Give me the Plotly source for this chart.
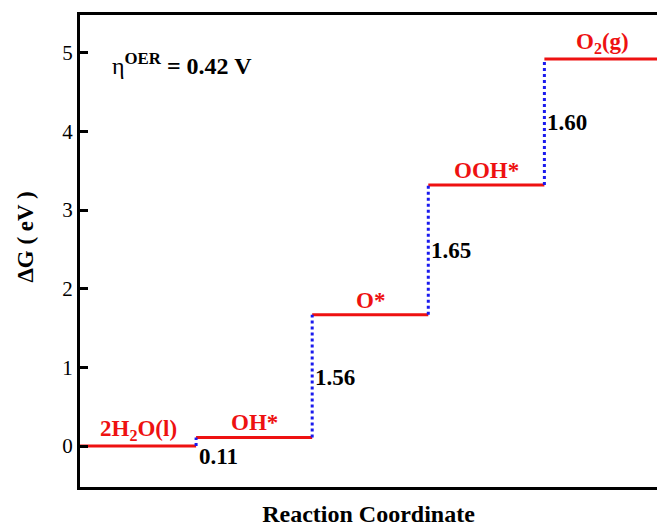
import plotly.graph_objects as go

states = ["2H<sub>2</sub>O(l)", "OH*", "O*", "OOH*", "O<sub>2</sub>(g)"]
levels = [0.0, 0.11, 1.67, 3.32, 4.92]
step_labels = ["0.11", "1.56", "1.65", "1.60"]
overpotential = "0.42"

RED = "#ee1111"
BLUE = "#1a1aee"
FONT = "Liberation Serif"

fig = go.Figure()

# red horizontal levels
xs, ys = [], []
for i, lv in enumerate(levels):
    xs += [i, i + 1, None]
    ys += [lv, lv, None]
fig.add_trace(go.Scatter(x=xs, y=ys, mode="lines", line=dict(color=RED, width=3),
                         hoverinfo="skip", showlegend=False))

# blue dotted steps
xs, ys = [], []
for i in range(1, len(levels)):
    xs += [i, i, None]
    ys += [levels[i - 1], levels[i], None]
fig.add_trace(go.Scatter(x=xs, y=ys, mode="lines", line=dict(color=BLUE, width=3, dash="dot"),
                         hoverinfo="skip", showlegend=False))

# state labels
for i, (name, lv) in enumerate(zip(states, levels)):
    fig.add_annotation(x=i + 0.5, y=lv, text="<b>%s</b>" % name, showarrow=False,
                       yanchor="bottom", yshift=0, font=dict(family=FONT, size=23, color=RED))

# step labels
for i, lab in enumerate(step_labels):
    lo, hi = levels[i], levels[i + 1]
    if hi - lo < 0.3:
        fig.add_annotation(x=i + 1, y=lo, text="<b>%s</b>" % lab, showarrow=False,
                           xanchor="left", yanchor="top", xshift=1, yshift=4,
                           font=dict(family=FONT, size=23, color="black"))
    else:
        fig.add_annotation(x=i + 1, y=(lo + hi) / 2, text="<b>%s</b>" % lab, showarrow=False,
                           xanchor="left", yanchor="middle", xshift=1, yshift=-1,
                           font=dict(family=FONT, size=23, color="black"))

fig.add_annotation(x=0.26, y=4.86, xref="x", yref="y",
                   text="η<sup><b>OER</b></sup><b> = %s V</b>" % overpotential,
                   showarrow=False, xanchor="left", yanchor="middle",
                   font=dict(family=FONT, size=24, color="black"))

# y-axis title
fig.add_annotation(x=-0.094, y=0.53, xref="paper", yref="paper", textangle=-90,
                   text="<b>ΔG ( eV )</b>", showarrow=False, xanchor="center", yanchor="middle",
                   font=dict(family=FONT, size=23, color="black"))

fig.update_layout(
    width=657, height=527,
    margin=dict(l=80, r=0, t=15, b=40),
    paper_bgcolor="white", plot_bgcolor="white",
    font=dict(family=FONT, color="black"),
    xaxis=dict(range=[0, 4.97], showgrid=False, zeroline=False, showticklabels=False,
               ticks="", showline=True, linecolor="black", linewidth=3, mirror=True,
               title=dict(text="<b>Reaction Coordinate</b>", font=dict(family=FONT, size=24),
                          standoff=18)),
    yaxis=dict(range=[-0.52, 5.48], showgrid=False, zeroline=False,
               tickvals=[0, 1, 2, 3, 4, 5], ticks="inside", ticklen=8, tickwidth=2.5,
               tickcolor="black", showline=True, linecolor="black", linewidth=3, mirror=False,
               tickfont=dict(family=FONT, size=21)),
)

fig.write_html("out.html", config={"displayModeBar": False},
               post_script="document.body.style.margin='0';")
